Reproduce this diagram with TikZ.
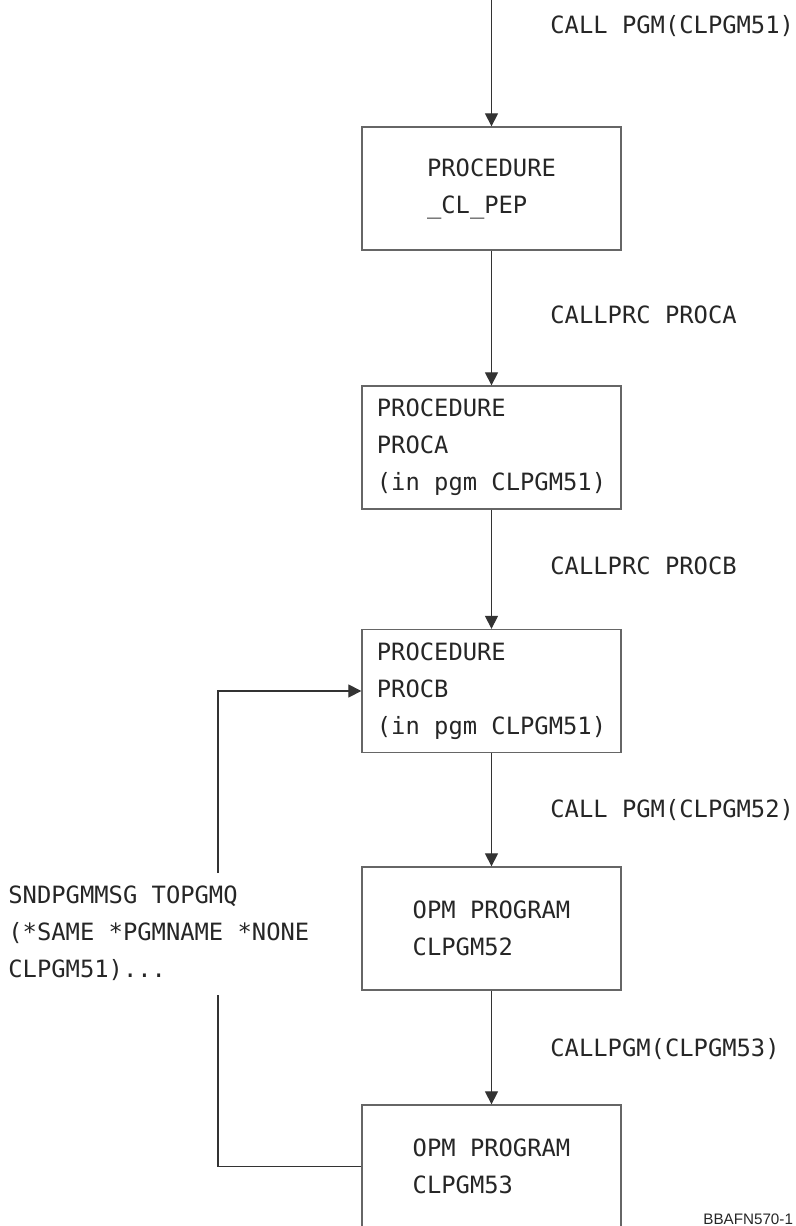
\documentclass[tikz,border=0pt]{standalone}
\usepackage{fontspec}
\newfontfamily\codefont{DejaVu Sans Mono}
\setsansfont{Liberation Sans}
\usetikzlibrary{arrows.meta}
\begin{document}
\begin{tikzpicture}[x=0.5pt, y=-0.5pt, every node/.style={font=\codefont\fontsize{11.9}{18.5}\selectfont, text=black!85, inner sep=0pt}, box/.style={draw=black!60, line width=0.65pt, minimum width=129.5pt, minimum height=61.5pt, align=left}, flow/.style={draw=black!80, line width=0.6pt, -{Triangle[length=6.5pt, width=6.5pt]}}, call/.style={anchor=base west}]
		\useasboundingbox (0,0) rectangle (796,1226);
		\node[box] (pep) at (491.5,188.5) {PROCEDURE\\\_CL\_PEP};
		\node[box] (proca) at (491.5,447.5) {PROCEDURE\\PROCA\\(in pgm CLPGM51)};
		\node[box] (procb) at (491.5,691) {PROCEDURE\\PROCB\\(in pgm CLPGM51)};
		\node[box] (pgm52) at (491.5,928.5) {OPM PROGRAM\\CLPGM52};
		\node[box] (pgm53) at (491.5,1166.5) {OPM PROGRAM\\CLPGM53};
		\coordinate (start) at (491.5,0);
		\node[call] (c51) at (550,33) {CALL PGM(CLPGM51)};
		\node[call] (cpa) at (550,323) {CALLPRC PROCA};
		\node[call] (cpb) at (550,574) {CALLPRC PROCB};
		\node[call] (c52) at (550,817) {CALL PGM(CLPGM52)};
		\node[call] (c53) at (550,1056) {CALLPGM(CLPGM53)};
		\node[anchor=north west, align=left] (snd) at (8,885) {SNDPGMMSG TOPGMQ\\(*SAME *PGMNAME *NONE\\CLPGM51)...};
		\node[anchor=base west, font=\sffamily\fontsize{7.6}{9}\selectfont] (fig) at (703,1224) {BBAFN570-1};
		\coordinate (gaptop) at (218,873);
		\coordinate (gapbot) at (218,995);
		\draw[flow] (start) -- (pep);
		\draw[flow] (pep) -- (proca);
		\draw[flow] (proca) -- (procb);
		\draw[flow] (procb) -- (pgm52);
		\draw[flow] (pgm52) -- (pgm53);
		\draw[flow, -] (pgm53.west) -| (gapbot);
		\draw[flow] (gaptop) |- (procb.west);
	\end{tikzpicture}
\end{document}
